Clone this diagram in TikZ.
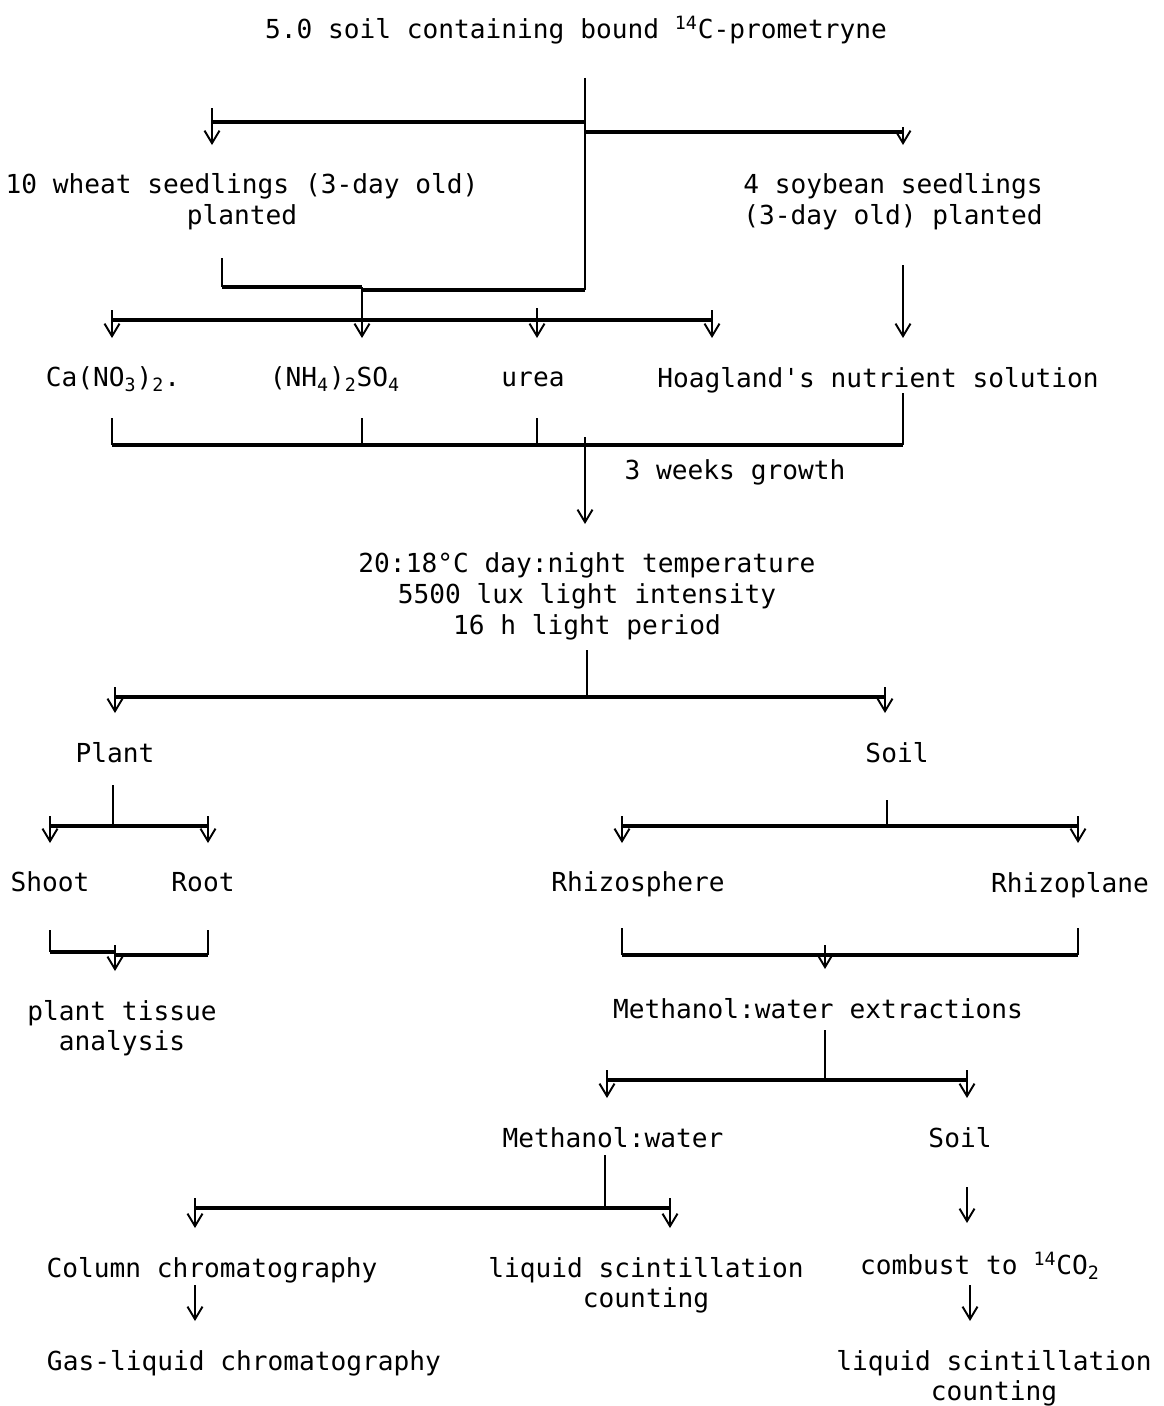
\documentclass[tikz,border=0pt]{standalone}
\usepackage{fontspec}
\setmonofont{DejaVu Sans Mono}
\usetikzlibrary{arrows.meta,calc}

\begin{document}
\begin{tikzpicture}[x=0.02cm,y=-0.02cm,line width=1.1pt,
  txt/.style={font=\ttfamily\fontsize{14.9pt}{17.6pt}\selectfont,align=center,inner sep=0pt,anchor=north},
  arr/.style={-{Straight Barb[length=0.25cm,width=0.3cm]},shorten >=0.56cm},
  bus/.style={line width=1.8pt}]
\useasboundingbox(0,0)rectangle(1163,1406);
\node[txt](src)at(576,15){5.0 soil containing bound \textsuperscript{14}C-prometryne};
\node[txt](wheat)at(242,173){10 wheat seedlings (3-day old)\\planted};
\node[txt](soy)at(893,173){4 soybean seedlings\\(3-day old) planted};
\node[txt](ca)at(113,366){Ca(NO\textsubscript{3})\textsubscript{2}.};\node[txt](nh)at(335,366){(NH\textsubscript{4})\textsubscript{2}SO\textsubscript{4}};
\node[txt](urea)at(533,371){urea};\node[txt](hoag)at(878,366){Hoagland's nutrient solution};
\node[txt](wk)at(735,459){3 weeks growth};
\node[txt](cond)at(587,552){20:18°C day:night temperature\\5500 lux light intensity\\16 h light period};
\node[txt](plant)at(115,741){Plant};\node[txt](soil)at(897,741){Soil};
\node[txt](shoot)at(50,871){Shoot};\node[txt](root)at(203,871){Root};
\node[txt](rhs)at(638,871){Rhizosphere};\node[txt](rhp)at(1070,871){Rhizoplane};
\node[txt](tissue)at(122,999){plant tissue\\analysis};
\node[txt](meth)at(818,997){Methanol:water extractions};
\node[txt](mw)at(613,1126){Methanol:water};\node[txt](soil2)at(960,1126){Soil};
\node[txt](col)at(212,1256){Column chromatography};\node[txt](lsc)at(646,1256){liquid scintillation\\counting};
\node[txt](comb)at(980,1251){combust to \textsuperscript{14}CO\textsubscript{2}};
\node[txt](glc)at(244,1349){Gas-liquid chromatography};\node[txt](lsc2)at(994,1349){liquid scintillation\\counting};
\coordinate(s0)at(585,78);\coordinate(s1)at(585,290);\coordinate(bl)at(212,122);\coordinate(br)at(903,132);
\draw(s0)--(s1);\draw[bus](s0|-bl)--(bl);\draw[bus](s0|-br)--(br);
\draw[arr]([yshift=.28cm]bl)--(bl|-wheat.north);\draw[arr]([yshift=.1cm]br)--(br|-soy.north);
\coordinate(w1)at(222,258);\coordinate(w2)at(362,287);\coordinate(n1)at(112,320);\coordinate(n4)at(712,320);
\draw(w1)--(w1|-w2);\draw[bus](w1|-w2)--(w2);\draw[bus](s1)--(s1-|w2);\draw[bus](n1)--(n4);
\draw[arr](w2)--(w2|-nh.north);\draw[arr]([yshift=.2cm]n1)--(n1|-ca.north);
\draw[arr](537,308)--(537,308|-ca.north);\draw[arr]([yshift=.2cm]n4)--(n4|-hoag.north);
\draw[arr](903,265)--(903,265|-hoag.north);
\coordinate(g1)at(112,445);\coordinate(g2)at(903,445);\coordinate(g0)at(585,437);
\draw(112,418)--(g1);\draw(362,418)--(362,445);\draw(537,418)--(537,445);\draw(903,393)--(g2);\draw[bus](g1)--(g2);
\draw[arr](g0)--(g0|-cond.north);
\coordinate(c0)at(587,650);\coordinate(pl)at(115,697);\coordinate(pr)at(885,697);
\draw(c0)--(c0|-pl);\draw[bus](pl)--(pr);
\draw[arr]([yshift=.2cm]pl)--(pl|-plant.north);\draw[arr]([yshift=.2cm]pr)--(pr|-soil.north);
\coordinate(p0)at(113,785);\coordinate(ql)at(50,826);\coordinate(qr)at(208,826);
\draw(p0)--(p0|-ql);\draw[bus](ql)--(qr);
\draw[arr]([yshift=.2cm]ql)--(ql|-shoot.north);\draw[arr]([yshift=.2cm]qr)--(qr|-root.north);
\coordinate(j0)at(115,945);
\draw(50,930)--(50,952);\draw(208,930)--(208,955);\draw[bus](50,952)--(115,952);\draw[bus](115,955)--(208,955);
\draw[arr](j0)--(j0|-tissue.north);
\coordinate(o0)at(887,800);\coordinate(ol)at(622,826);\coordinate(or)at(1078,826);
\draw(o0)--(o0|-ol);\draw[bus](ol)--(or);
\draw[arr]([yshift=.2cm]ol)--(ol|-rhs.north);\draw[arr]([yshift=.2cm]or)--(or|-rhp.north);
\coordinate(m0)at(825,945);\coordinate(hl)at(622,955);\coordinate(hr)at(1078,955);
\draw(622,928)--(hl);\draw(1078,928)--(hr);\draw[bus](hl)--(hr);
\draw[arr](m0)--(m0|-meth.north);
\coordinate(e0)at(825,1030);\coordinate(el)at(607,1080);\coordinate(er)at(967,1080);
\draw(e0)--(e0|-el);\draw[bus](el)--(er);
\draw[arr]([yshift=.2cm]el)--(el|-mw.north);\draw[arr]([yshift=.2cm]er)--(er|-soil2.north);
\coordinate(f0)at(605,1155);\coordinate(fl)at(195,1208);\coordinate(fr)at(670,1208);
\draw(f0)--(f0|-fl);\draw[bus](fl)--(fr);
\draw[arr]([yshift=.2cm]fl)--(fl|-col.north);\draw[arr]([yshift=.2cm]fr)--(fr|-lsc.north);
\draw[arr](967,1187)--(967,1187|-comb.north);
\draw[arr](195,1285)--(195,1285|-glc.north);\draw[arr](970,1285)--(970,1285|-lsc2.north);
\end{tikzpicture}
\end{document}
